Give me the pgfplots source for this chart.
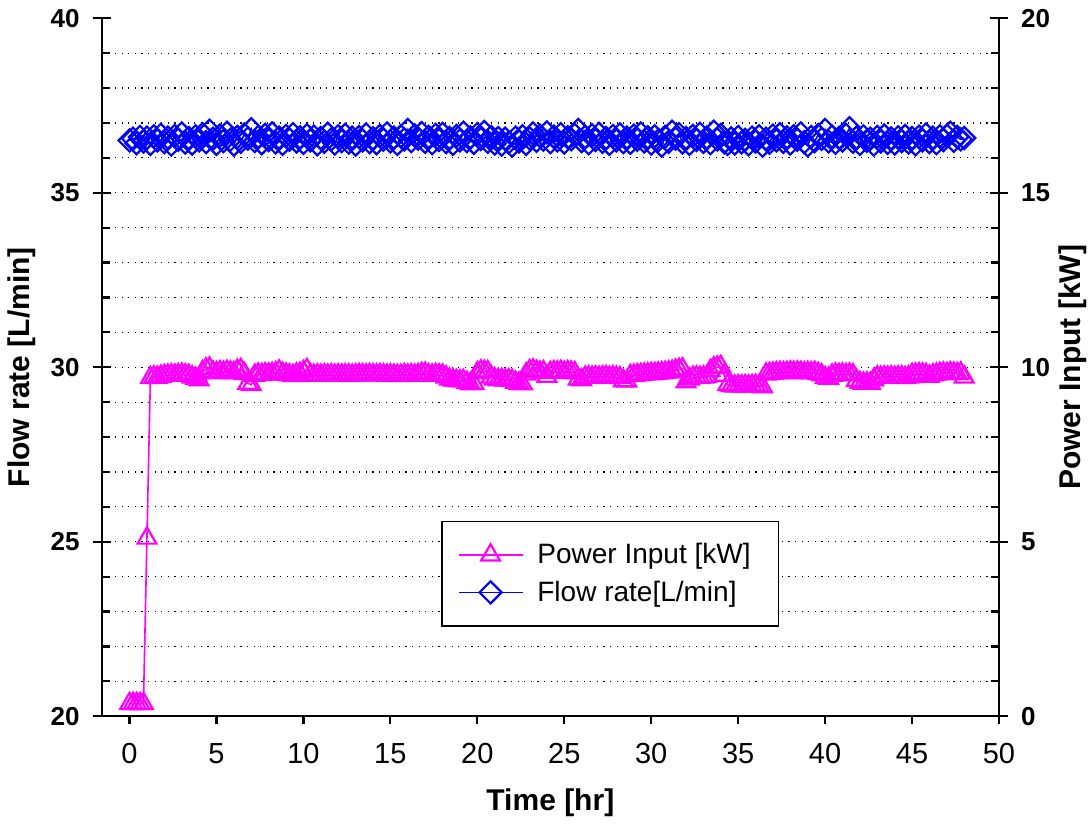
\documentclass[border=0pt]{standalone}
\usepackage{fontspec}
\setmainfont{Liberation Sans}
\usepackage{pgfplots}
\pgfplotsset{compat=1.18}
\usepackage{pgfplotstable}
\usetikzlibrary{calc}

\definecolor{powc}{RGB}{255,0,255}
\definecolor{flowc}{RGB}{0,0,255}

% t [hr], flow [L/min], power [kW]
\pgfplotstableread{
t flow power
0.0 36.50 0.36
0.2 36.55 0.36
0.4 36.42 0.36
0.6 36.60 0.36
0.8 36.47 0.36
1.0 36.58 5.10
1.2 36.40 9.70
1.4 36.62 9.72
1.6 36.50 9.71
1.8 36.66 9.74
2.0 36.45 9.76
2.2 36.58 9.77
2.4 36.38 9.78
2.6 36.63 9.77
2.8 36.52 9.79
3.0 36.70 9.80
3.2 36.44 9.78
3.4 36.57 9.77
3.6 36.41 9.72
3.8 36.62 9.68
4.0 36.50 9.64
4.2 36.68 9.87
4.4 36.45 9.95
4.6 36.78 9.97
4.8 36.55 9.86
5.0 36.40 9.84
5.2 36.64 9.87
5.4 36.48 9.85
5.6 36.72 9.88
5.8 36.52 9.86
6.0 36.38 9.84
6.2 36.60 9.91
6.4 36.46 9.93
6.6 36.67 9.82
6.8 36.55 9.54
7.0 36.82 9.50
7.2 36.48 9.77
7.4 36.60 9.80
7.6 36.42 9.79
7.8 36.66 9.81
8.0 36.51 9.80
8.2 36.70 9.82
8.4 36.44 9.84
8.6 36.58 9.89
8.8 36.40 9.82
9.0 36.63 9.80
9.2 36.52 9.78
9.4 36.68 9.76
9.6 36.47 9.80
9.8 36.59 9.82
10.0 36.43 9.87
10.2 36.65 9.93
10.4 36.50 9.78
10.6 36.61 9.77
10.8 36.39 9.78
11.0 36.57 9.77
11.2 36.46 9.78
11.4 36.69 9.77
11.6 36.53 9.78
11.8 36.41 9.77
12.0 36.62 9.78
12.2 36.48 9.77
12.4 36.66 9.78
12.6 36.44 9.78
12.8 36.58 9.77
13.0 36.38 9.78
13.2 36.60 9.79
13.4 36.50 9.78
13.6 36.67 9.78
13.8 36.45 9.79
14.0 36.56 9.78
14.2 36.42 9.78
14.4 36.63 9.79
14.6 36.52 9.78
14.8 36.70 9.77
15.0 36.47 9.78
15.2 36.58 9.77
15.4 36.40 9.76
15.6 36.62 9.77
15.8 36.53 9.78
16.0 36.80 9.77
16.2 36.48 9.78
16.4 36.64 9.77
16.6 36.55 9.79
16.8 36.71 9.82
17.0 36.46 9.83
17.2 36.60 9.78
17.4 36.42 9.77
17.6 36.66 9.79
17.8 36.51 9.78
18.0 36.69 9.77
18.2 36.45 9.72
18.4 36.57 9.66
18.6 36.40 9.63
18.8 36.63 9.62
19.0 36.50 9.61
19.2 36.72 9.62
19.4 36.48 9.56
19.6 36.59 9.52
19.8 36.43 9.54
20.0 36.68 9.84
20.2 36.54 9.89
20.4 36.74 9.88
20.6 36.46 9.87
20.8 36.60 9.72
21.0 36.41 9.66
21.2 36.57 9.64
21.4 36.38 9.65
21.6 36.55 9.63
21.8 36.44 9.64
22.0 36.35 9.62
22.2 36.58 9.57
22.4 36.47 9.54
22.6 36.62 9.52
22.8 36.40 9.80
23.0 36.56 9.90
23.2 36.70 9.92
23.4 36.49 9.88
23.6 36.64 9.86
23.8 36.52 9.87
24.0 36.73 9.74
24.2 36.45 9.85
24.4 36.61 9.87
24.6 36.50 9.86
24.8 36.68 9.88
25.0 36.44 9.85
25.2 36.59 9.87
25.4 36.53 9.86
25.6 36.66 9.84
25.8 36.80 9.66
26.0 36.48 9.64
26.2 36.60 9.71
26.4 36.42 9.72
26.6 36.65 9.71
26.8 36.51 9.72
27.0 36.69 9.71
27.2 36.46 9.72
27.4 36.57 9.73
27.6 36.40 9.71
27.8 36.63 9.72
28.0 36.50 9.71
28.2 36.67 9.70
28.4 36.45 9.61
28.6 36.58 9.60
28.8 36.43 9.76
29.0 36.64 9.77
29.2 36.52 9.78
29.4 36.70 9.79
29.6 36.47 9.80
29.8 36.59 9.81
30.0 36.41 9.82
30.2 36.62 9.82
30.4 36.50 9.83
30.6 36.35 9.84
30.8 36.60 9.85
31.0 36.46 9.86
31.2 36.75 9.88
31.4 36.55 9.91
31.6 36.68 9.94
31.8 36.44 9.95
32.0 36.57 9.58
32.2 36.40 9.66
32.4 36.63 9.71
32.6 36.51 9.72
32.8 36.69 9.71
33.0 36.46 9.72
33.2 36.58 9.73
33.4 36.42 9.90
33.6 36.75 9.98
33.8 36.53 10.00
34.0 36.66 10.02
34.2 36.45 9.77
34.4 36.40 9.50
34.6 36.56 9.47
34.8 36.41 9.46
35.0 36.60 9.47
35.2 36.44 9.46
35.4 36.52 9.47
35.6 36.39 9.46
35.8 36.58 9.47
36.0 36.47 9.48
36.2 36.62 9.47
36.4 36.35 9.44
36.6 36.55 9.80
36.8 36.43 9.82
37.0 36.64 9.83
37.2 36.50 9.84
37.4 36.68 9.85
37.6 36.46 9.84
37.8 36.59 9.85
38.0 36.41 9.86
38.2 36.62 9.85
38.4 36.52 9.86
38.6 36.70 9.85
38.8 36.45 9.84
39.0 36.36 9.85
39.2 36.60 9.84
39.4 36.48 9.85
39.6 36.65 9.82
39.8 36.54 9.78
40.0 36.80 9.70
40.2 36.47 9.68
40.4 36.61 9.77
40.6 36.43 9.80
40.8 36.57 9.79
41.0 36.50 9.80
41.2 36.66 9.79
41.4 36.85 9.80
41.6 36.46 9.78
41.8 36.58 9.62
42.0 36.40 9.56
42.2 36.62 9.54
42.4 36.49 9.55
42.6 36.55 9.54
42.8 36.38 9.64
43.0 36.60 9.72
43.2 36.47 9.71
43.4 36.64 9.72
43.6 36.43 9.71
43.8 36.56 9.72
44.0 36.41 9.71
44.2 36.59 9.72
44.4 36.48 9.72
44.6 36.63 9.70
44.8 36.44 9.72
45.0 36.57 9.79
45.2 36.39 9.80
45.4 36.61 9.81
45.6 36.50 9.80
45.8 36.67 9.79
46.0 36.45 9.74
46.2 36.58 9.78
46.4 36.42 9.80
46.6 36.62 9.82
46.8 36.51 9.83
47.0 36.64 9.82
47.2 36.72 9.84
47.4 36.49 9.83
47.6 36.60 9.82
47.8 36.53 9.83
48.0 36.57 9.72
}\datatab

\pgfplotsset{
  common/.style={
    width=448.5pt, height=348.85pt, scale only axis,
    xmin=-1.6, xmax=50,
    axis line style={-, line width=1.2pt},
    every tick/.style={black, line width=1.1pt},
    /pgf/number format/assume math mode=true,
    tick align=inside,
    major tick length=4.5pt, minor tick length=4pt,
    yticklabel style={font=\bfseries\fontsize{13}{15}\selectfont},
    ylabel style={font=\bfseries\fontsize{15}{18}\selectfont},
    xlabel style={font=\bfseries\fontsize{15}{18}\selectfont},
    xticklabel style={font=\fontsize{14.5}{17}\selectfont, yshift=-6pt},
    extra y tick labels={},
    extra y tick style={tick align=outside, major tick length=4.5pt},
  },
  legend image code/.code={
    \draw[mark repeat=2,mark phase=2,#1] plot coordinates {(0pt,0pt) (16pt,0pt) (32pt,0pt)};
  },
}

\begin{document}
\begin{tikzpicture}
% left axis: flow rate, x axis, grid
\begin{axis}[common,
  axis x line*=bottom, axis y line*=left,
  ymin=20, ymax=40,
  xtick=\empty,
  extra x ticks={0,5,...,50},
  extra x tick style={tick align=outside, major tick length=4pt},
  ytick={20,25,...,40}, minor ytick={21,22,...,39},
  extra y ticks={20,25,...,40},
  yticklabel style={xshift=-7.5pt},
  yminorgrids=true,
  minor grid style={black, line width=0.6pt, dash pattern=on 0.6pt off 2.7pt},
  xlabel={Time [hr]},
  xlabel style={at={(axis description cs:0.5,-0.1247)}, anchor=center},
  ylabel={Flow rate [L/min]},
  ylabel style={at={(axis description cs:-0.0889,0.5)}, anchor=center},
]
\addplot[flowc, line width=0.8pt, mark=square, mark size=3.9pt,
  mark options={solid, rotate=45, fill=white, line width=1.1pt}]
  table[x=t, y=flow] {\datatab};
\end{axis}

% right axis: power input
\begin{axis}[common,
  axis x line=none, axis y line*=right,
  ymin=0, ymax=20,
  ytick={0,5,...,20}, minor ytick={1,2,...,19},
  extra y ticks={0,5,...,20},
  yticklabel style={xshift=7.5pt},
  ylabel={Power Input [kW]},
  ylabel style={at={(axis description cs:1.0817,0.5)}, anchor=center},
  legend style={at={(0.378,0.128)}, anchor=south west, draw=black,
    line width=0.85pt, fill=white, font=\fontsize{14}{17}\selectfont,
    inner xsep=8pt, inner ysep=9pt, row sep=3pt,
    /tikz/every odd column/.append style={column sep=5pt}},
  legend cell align=left,
]
\addplot[powc, line width=0.8pt, mark=triangle, mark size=5.4pt,
  mark options={solid, fill=white, line width=1.1pt}]
  table[x=t, y=power] {\datatab};
\addlegendentry{Power Input [kW]\kern4pt}
\addlegendimage{flowc, line width=0.8pt, mark=square, mark size=3.9pt,
  mark options={solid, rotate=45, fill=white, line width=1.1pt}}
\addlegendentry{Flow rate[L/min]}
\coordinate (bl) at (rel axis cs:0,0);
\coordinate (tr) at (rel axis cs:1,1);
\end{axis}

\pgfresetboundingbox
\path[use as bounding box] ($(bl)+(-50.85pt,-53.5pt)$) rectangle ($(tr)+(45.5pt,9.15pt)$);
\end{tikzpicture}
\end{document}
